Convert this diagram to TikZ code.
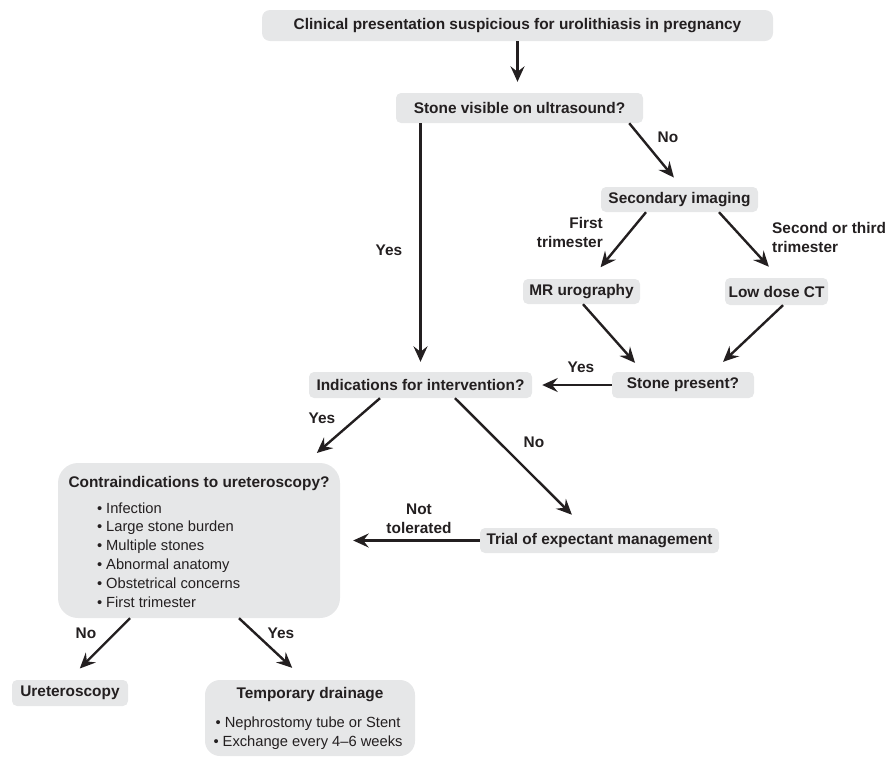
\documentclass[tikz,border=0pt]{standalone}
\usepackage{fontspec}
\setmainfont{Liberation Sans}
\usetikzlibrary{arrows.meta,calc}
\definecolor{boxgray}{HTML}{E6E7E8}
\definecolor{ink}{HTML}{231F20}
\tikzset{box/.style={fill=boxgray,rounded corners=5pt,inner sep=0pt,text=ink,
           font=\fontsize{15.4}{18}\selectfont\bfseries},
         bigbox/.style={fill=boxgray,rounded corners=20pt,inner sep=0pt},
         flow/.style={-{Stealth[length=15.5pt,width=14pt,inset=5.5pt]},line width=2.4pt,draw=ink},
         lbl/.style={inner sep=0pt,text=ink,font=\fontsize{15.4}{19}\selectfont\bfseries},
         bullets/.style={inner sep=0pt,text=ink,font=\fontsize{14.7}{18.8}\selectfont}}

\begin{document}
\begin{tikzpicture}[x=1pt,y=-1pt]
\useasboundingbox (0,0) rectangle (888,756);
% decision boxes
\node[box,rounded corners=8pt,minimum width=511pt,minimum height=31pt] (clin) at (517.5,25.5)
  {Clinical presentation suspicious for urolithiasis in pregnancy};
\node[box,minimum width=247pt,minimum height=30pt] (us) at (519.5,108) {Stone visible on ultrasound?};
\node[box,minimum width=157pt,minimum height=25pt] (sec) at (679.5,199.5) {Secondary imaging};
\node[box,minimum width=117pt,minimum height=25pt] (mr) at (581.5,291.5) {MR urography};
\node[box,minimum width=103pt,minimum height=27pt] (ct) at (776.5,291.5) {Low dose CT};
\node[box,minimum width=142pt,minimum height=26pt] (sp) at (683,385) {Stone present?};
\node[box,minimum width=223pt,minimum height=26pt] (ind) at (420.5,385) {Indications for intervention?};
\node[box,minimum width=239pt,minimum height=25pt] (trial) at (599.5,540.5) {Trial of expectant management};
\node[box,minimum width=116pt,minimum height=26pt] (uret) at (70,693) {Ureteroscopy};
% boxes with a list
\node[bigbox,minimum width=282pt,minimum height=155pt] (contra) at (199,540.5) {};
\node[lbl,anchor=base] (contratitle) at ($(contra.north)+(0,24.5)$) {Contraindications to ureteroscopy?};
\node[bullets,anchor=north west,align=left] (contralist) at ($(contra.north west)+(39,39.5)$)
  {\textbullet\ Infection\\ \textbullet\ Large stone burden\\ \textbullet\ Multiple stones\\
   \textbullet\ Abnormal anatomy\\ \textbullet\ Obstetrical concerns\\ \textbullet\ First trimester};
\node[bigbox,rounded corners=15pt,minimum width=210pt,minimum height=76pt] (temp) at (310,718) {};
\node[lbl,anchor=base] (temptitle) at ($(temp.north)+(0,18.5)$) {Temporary drainage};
\node[bullets,anchor=north,align=center] (templist) at ($(temp.north)+(-2,37)$)
  {\textbullet\ Nephrostomy tube or Stent\\ \textbullet\ Exchange every 4--6 weeks};
% connectors
\draw[flow,shorten >=11pt] (clin.south) -- (clin.south |- us.north);
\draw[flow,shorten >=10pt] (us.south -| ind.north) -- (ind.north);
\draw[flow,shorten >=12pt] ([xshift=-14pt]us.south east) -- ([xshift=2pt]sec.north);
\draw[flow,shorten >=15pt] ([xshift=-33.5pt]sec.south) -- ([xshift=9.5pt]mr.north);
\draw[flow,shorten >=15pt] ([xshift=39.5pt]sec.south) -- ([xshift=2.5pt]ct.north);
\draw[flow,shorten >=12pt] ([xshift=1.5pt]mr.south) -- ([xshift=-40pt]sp.north);
\draw[flow,shorten >=14.5pt] ([xshift=6.5pt]ct.south) -- ([xshift=29.5pt]sp.north);
\draw[flow,shorten >=10pt] (sp.west) -- (ind.east);
\draw[flow,shorten >=15pt] ([xshift=-40.5pt]ind.south) -- ([xshift=106.5pt]contra.north);
\draw[flow,shorten >=18.5pt] ([xshift=34.5pt]ind.south) -- ([xshift=-14.5pt]trial.north);
\draw[flow,shorten >=13pt] (trial.west) -- (contra.east);
\draw[flow,shorten >=16pt] ([xshift=-69pt]contra.south) -- ([xshift=-1.5pt]uret.north);
\draw[flow,shorten >=17.5pt] ([xshift=40pt]contra.south) -- ([xshift=-5pt]temp.north);
% branch labels
\node[lbl] (yesus) at (389,250) {Yes};
\node[lbl] (nous) at (668,137) {No};
\node[lbl,anchor=east,align=right] (first) at (603,232.5) {First\\trimester};
\node[lbl,anchor=west,align=left] (second) at (772,237.5) {Second or third\\trimester};
\node[lbl] (yessp) at (581,367) {Yes};
\node[lbl] (yesind) at (322,418) {Yes};
\node[lbl] (noind) at (534,442) {No};
\node[lbl,align=center] (nottol) at (419,518.5) {Not\\tolerated};
\node[lbl] (nocontra) at (86,633) {No};
\node[lbl] (yescontra) at (281,633) {Yes};
\end{tikzpicture}
\end{document}
